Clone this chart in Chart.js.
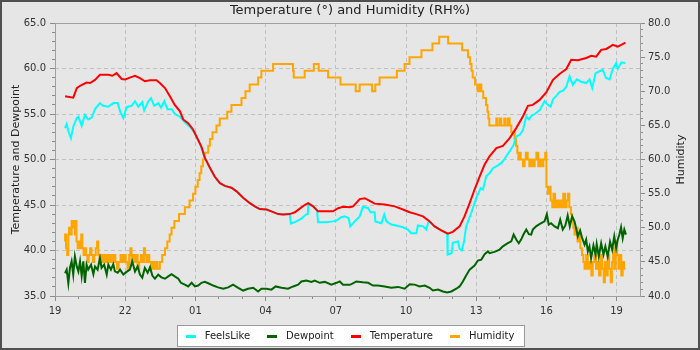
<!DOCTYPE html>
<html>
<head>
<meta charset="utf-8">
<script src="https://cdn.jsdelivr.net/npm/chart.js@4/dist/chart.umd.min.js"></script>
<style>
  html, body { margin: 0; padding: 0; background: #e6e6e6; }
  #frame { width: 700px; height: 350px; box-sizing: border-box; border: 2px solid #505050; background: #e6e6e6; }
  canvas { display: block; }
</style>
</head>
<body>
<div id="frame"><canvas id="chart" width="696" height="346"></canvas></div>
<script>
// Hours since 19:00 on the first day; tick labels every three hours.
const hourLabels = ['19', '22', '01', '04', '07', '10', '13', '16', '19'];

const tempHours = [0.43,0.78,0.93,1.07,1.35,1.5,1.71,1.92,2.28,2.45,2.63,2.85,3.0,3.2,3.42,3.63,3.84,4.06,4.34,4.48,4.7,4.91,5.12,5.34,5.48,5.69,5.9,6.05,6.26,6.4,6.62,6.83,7.05,7.26,7.54,7.76,8.04,8.33,8.54,8.75,9.04,9.25,9.54,9.75,10.03,10.25,10.46,10.67,10.82,11.03,11.24,11.6,11.88,12.1,12.31,12.6,12.74,13.02,13.24,13.45,13.66,14.09,14.52,14.87,15.16,15.44,15.73,16.01,16.22,16.51,16.79,17.0,17.29,17.5,17.72,17.93,18.15,18.36,18.57,18.86,19.14,19.43,19.71,20.0,20.21,20.42,20.71,21.0,21.28,21.56,21.85,22.06,22.35,22.7,22.92,23.13,23.34,23.56,23.84,24.05,24.2,24.38];
const temperature = [56.95,56.8,57.85,58.1,58.45,58.4,58.75,59.3,59.3,59.2,59.5,58.85,58.8,59.0,59.2,58.95,58.6,58.7,58.7,58.4,57.85,56.95,56.0,55.3,54.4,54.0,53.3,52.5,51.4,50.2,49.1,48.1,47.4,47.1,46.9,46.5,45.8,45.2,44.85,44.55,44.5,44.3,44.0,43.95,44.0,44.2,44.6,45.0,45.2,44.85,44.3,44.3,44.3,44.65,44.8,44.75,44.85,45.65,45.75,45.45,45.15,45.05,44.85,44.5,44.2,44.0,43.75,43.2,42.65,42.2,41.85,42.05,42.65,43.75,45.2,46.7,48.15,49.45,50.35,51.25,51.5,52.35,53.45,54.75,55.9,56.0,56.55,57.4,58.75,59.4,59.95,60.95,60.9,61.15,61.4,61.3,62.05,62.15,62.6,62.4,62.6,62.85];

const feelsHours = [0.43,0.5,0.57,0.68,0.78,0.93,1.0,1.14,1.28,1.42,1.57,1.71,1.92,2.06,2.28,2.49,2.68,2.78,2.92,3.06,3.27,3.42,3.56,3.73,3.81,3.99,4.1,4.24,4.41,4.53,4.67,4.81,4.98,5.12,5.34,5.55,5.76,5.98,6.19,6.4,6.62,6.83,7.05,7.26,7.54,7.76,8.04,8.33,8.54,8.75,9.04,9.25,9.54,9.75,10.03,10.08,10.32,10.53,10.72,10.8,10.83,11.03,11.2,11.24,11.6,11.88,12.03,12.24,12.38,12.55,12.62,12.81,13.02,13.16,13.38,13.49,13.66,13.69,13.95,14.07,14.16,14.37,14.58,14.87,15.08,15.22,15.44,15.51,15.73,15.87,15.94,16.01,16.22,16.51,16.76,16.78,16.95,17.0,17.22,17.29,17.38,17.48,17.57,17.79,18.0,18.19,18.29,18.43,18.57,18.72,18.9,19.07,19.21,19.43,19.6,19.71,19.86,20.0,20.14,20.26,20.35,20.5,20.71,20.92,21.07,21.18,21.28,21.42,21.56,21.73,21.85,21.99,22.13,22.3,22.48,22.7,22.84,22.96,23.1,23.27,23.41,23.55,23.7,23.84,23.98,24.05,24.2,24.38];
const feelsLike = [53.45,53.9,53.1,52.35,53.6,54.55,54.7,53.7,54.9,54.4,54.6,55.55,56.2,55.9,55.8,56.2,56.2,55.3,54.55,55.75,55.9,56.4,55.8,56.3,55.4,56.4,56.75,55.9,56.2,55.7,56.4,55.5,55.55,55.0,54.7,54.1,53.6,52.9,51.8,50.2,49.1,48.1,47.4,47.1,46.9,46.5,45.8,45.2,44.85,44.55,44.5,44.3,44.0,43.95,44.0,42.95,43.2,43.5,43.95,44.0,45.15,44.85,44.4,43.1,43.1,43.2,43.3,43.65,43.75,43.55,42.65,43.2,43.75,44.8,44.65,44.2,44.2,43.2,43.0,43.95,43.2,42.85,42.75,42.55,42.3,41.9,41.9,42.75,42.65,42.3,43.0,43.2,42.65,42.2,41.85,39.55,39.7,40.85,41.0,40.2,40.0,40.95,42.65,44.15,45.75,46.85,46.7,48.15,48.5,49.05,49.3,49.6,50.05,50.9,51.6,52.55,52.7,53.25,54.75,54.4,54.75,55.0,55.4,56.4,56.0,55.8,56.6,57.0,57.4,57.6,58.0,59.15,58.2,58.8,58.55,58.4,58.8,57.85,59.45,59.7,59.85,58.95,58.8,59.95,60.6,59.95,60.65,60.6];

const dewHours = [0.43,0.5,0.57,0.64,0.71,0.78,0.85,0.93,1.0,1.07,1.14,1.21,1.28,1.35,1.42,1.54,1.64,1.71,1.82,1.92,1.99,2.1,2.21,2.28,2.39,2.49,2.56,2.68,2.78,2.92,3.06,3.2,3.3,3.42,3.53,3.63,3.73,3.84,3.96,4.06,4.16,4.27,4.41,4.55,4.7,4.84,4.98,5.12,5.27,5.38,5.55,5.69,5.84,5.98,6.12,6.26,6.4,6.55,6.76,6.97,7.19,7.4,7.61,7.83,8.04,8.25,8.47,8.68,8.82,9.04,9.25,9.43,9.68,9.96,10.18,10.39,10.53,10.74,10.96,11.1,11.31,11.53,11.81,12.03,12.17,12.31,12.6,12.67,12.88,13.16,13.38,13.59,13.8,14.09,14.37,14.66,14.94,15.16,15.37,15.58,15.8,16.01,16.15,16.37,16.58,16.76,16.94,17.15,17.29,17.43,17.57,17.72,17.93,18.07,18.22,18.36,18.5,18.57,18.78,19.0,19.14,19.35,19.5,19.6,19.71,19.82,19.92,20.02,20.14,20.25,20.35,20.42,20.56,20.67,20.78,20.92,21.02,21.1,21.2,21.35,21.49,21.59,21.7,21.81,21.91,22.0,22.1,22.2,22.27,22.34,22.44,22.53,22.63,22.7,22.77,22.84,22.91,23.01,23.1,23.15,23.24,23.34,23.44,23.52,23.62,23.72,23.81,23.9,23.98,24.05,24.12,24.19,24.26,24.33,24.4];
const dewpoint = [37.5,37.9,36.4,38.1,38.8,37.35,39.35,38.25,37.7,38.8,37.2,38.8,36.45,38.45,37.9,38.45,37.4,38.25,37.9,39.15,38.1,38.45,37.35,38.45,37.9,38.5,37.7,37.55,37.9,37.35,37.65,37.9,38.8,37.7,38.25,37.35,37.0,38.1,37.55,38.15,37.25,36.9,37.35,37.05,36.9,37.15,37.4,37.15,36.9,36.45,36.25,36.05,36.45,36.05,36.15,36.45,36.55,36.4,36.15,35.95,35.8,35.95,36.25,35.9,35.6,35.8,35.9,35.5,35.8,35.8,35.7,36.05,35.9,35.8,36.05,36.25,36.6,36.7,36.55,36.7,36.45,36.55,36.25,36.45,36.6,36.25,36.25,36.3,36.6,36.5,36.45,36.15,36.15,36.05,35.9,36.0,35.8,36.3,36.25,36.05,36.15,35.9,35.6,35.7,35.5,35.4,35.5,35.8,36.05,36.6,37.25,37.9,38.35,38.9,39.0,39.6,39.9,39.7,39.85,40.1,40.45,40.8,41.0,41.75,41.2,40.8,41.2,41.75,42.3,41.8,41.75,42.3,42.65,42.85,43.0,43.2,44.0,42.85,43.0,42.65,42.45,43.4,42.3,42.75,43.85,42.65,43.75,43.2,42.45,41.55,42.2,41.35,40.65,41.2,39.9,40.45,39.15,40.55,39.55,40.7,39.35,40.8,39.55,40.45,39.35,40.95,40.1,41.55,40.25,41.2,41.75,42.55,41.35,42.3,41.75];

// Relative humidity is logged in whole percent; each value holds until the next reading.
const humHours = [0.43,0.47,0.52,0.57,0.6,0.66,0.71,0.76,0.8,0.85,0.88,0.92,0.97,1.02,1.07,1.12,1.17,1.22,1.28,1.33,1.38,1.44,1.5,1.56,1.62,1.68,1.74,1.8,1.85,1.9,1.95,2.0,2.07,2.13,2.2,2.28,2.35,2.42,2.5,2.58,2.65,2.72,2.8,2.88,2.95,3.02,3.1,3.17,3.22,3.27,3.32,3.4,3.47,3.53,3.6,3.67,3.73,3.8,3.85,3.9,3.96,4.03,4.1,4.17,4.24,4.3,4.38,4.48,4.58,4.7,4.8,4.9,4.98,5.1,5.3,5.55,5.75,5.9,6.0,6.1,6.18,6.25,6.32,6.4,6.55,6.62,6.73,6.9,7.04,7.36,7.54,7.97,8.14,8.32,8.68,8.82,9.32,10.17,10.2,10.67,11.06,11.27,11.67,12.2,12.85,13.02,13.55,13.69,13.87,14.61,14.94,15.15,15.66,16.13,16.42,16.8,17.4,17.65,17.74,17.8,17.85,17.95,18.06,18.14,18.22,18.3,18.42,18.48,18.52,18.56,18.86,18.9,19.0,19.07,19.2,19.25,19.35,19.43,19.5,19.64,19.7,19.76,19.8,19.85,19.9,19.95,20.0,20.07,20.12,20.2,20.27,20.35,20.42,20.5,20.57,20.65,20.72,20.8,20.87,20.95,21.0,21.06,21.12,21.18,21.25,21.3,21.37,21.43,21.5,21.58,21.65,21.72,21.8,21.86,21.92,21.98,22.05,22.1,22.15,22.2,22.27,22.33,22.4,22.45,22.52,22.58,22.63,22.7,22.77,22.85,22.92,22.98,23.05,23.12,23.18,23.25,23.32,23.38,23.45,23.5,23.56,23.62,23.68,23.75,23.8,23.85,23.9,23.96,24.02,24.08,24.14,24.2,24.26,24.32,24.38];
const humidity = [48,49,47,46,49,50,49,51,50,51,49,51,48,47,48,47,49,47,46,47,46,45,46,47,46,45,46,47,48,46,45,46,45,46,45,46,45,46,45,46,45,44,45,46,45,46,45,44,46,47,45,46,45,46,44,45,46,45,47,46,45,46,45,44,45,44,45,44,45,46,47,48,49,50,51,52,53,54,55,56,57,58,59,60,61,62,63,64,65,66,67,68,69,70,71,72,73,74,73,72,73,74,73,72,71,70,71,70,71,72,73,74,75,76,77,78,77,76,75,74,73,72,71,70,71,70,69,68,67,66,65,66,65,66,65,66,65,66,65,64,63,62,61,60,61,60,60,59,60,61,60,59,60,59,60,61,59,60,59,60,61,56,55,56,54,53,55,53,54,53,54,53,55,53,54,55,53,52,51,50,49,50,48,49,47,46,45,44,46,44,45,43,45,46,44,45,43,46,44,42,45,43,46,44,42,45,47,44,48,46,44,46,43,45,44];

const toPoints = (hours, values) => hours.map((h, i) => ({ x: h, y: values[i] }));

// Legend swatch: a short bar with a little transparent room to its right.
function swatch(color) {
  const c = document.createElement('canvas');
  c.width = 14; c.height = 4;
  const g = c.getContext('2d');
  g.fillStyle = color;
  g.fillRect(0, 1, 10, 3);
  return c;
}

const FONT = "'DejaVu Sans', 'Liberation Sans', sans-serif";
Chart.defaults.font.family = FONT;

const AXIS_GREY = '#8a8a8a';
const GRID_GREY = '#c0c0c0';

const chartDecor = {
  id: 'chartDecor',
  beforeDraw(chart) {
    const ctx = chart.ctx;
    ctx.imageSmoothingEnabled = false;
    const hb = chart.legend && chart.legend.legendHitBoxes;
    if (hb && hb.length) {
      const first = hb[0], last = hb[hb.length - 1];
      const left = Math.round(first.left - 9);
      const right = Math.round(last.left + last.width + 11);
      const cy = first.top + first.height / 2;
      const top = Math.round(cy - 11), bottom = Math.round(cy + 11);
      ctx.save();
      ctx.fillStyle = '#ffffff';
      ctx.fillRect(left, top, right - left, bottom - top);
      ctx.strokeStyle = '#999999';
      ctx.lineWidth = 1;
      ctx.strokeRect(left + 0.5, top + 0.5, right - left - 1, bottom - top - 1);
      ctx.restore();
    }
  },
  beforeDatasetsDraw(chart) {
    const { ctx, chartArea: a, scales: { x, y, y1 } } = chart;
    ctx.save();
    ctx.strokeStyle = AXIS_GREY;
    ctx.lineWidth = 1;
    ctx.beginPath();
    // minor ticks: every hour, every unit on both value axes
    for (let h = x.min + 1; h < x.max; h++) {
      if (h % 3 === 0) continue;
      const px = Math.floor(x.getPixelForValue(h)) + 0.5;
      ctx.moveTo(px, a.bottom); ctx.lineTo(px, a.bottom + 3);
    }
    for (let v = y.min + 1; v < y.max; v++) {
      if (v % 5 === 0) continue;
      const py = Math.floor(y.getPixelForValue(v)) + 0.5;
      ctx.moveTo(a.left - 3, py); ctx.lineTo(a.left, py);
    }
    for (let v = y1.min + 1; v < y1.max; v++) {
      if (v % 5 === 0) continue;
      const py = Math.floor(y1.getPixelForValue(v)) + 0.5;
      ctx.moveTo(a.right, py); ctx.lineTo(a.right + 3, py);
    }
    ctx.stroke();
    // plot outline
    ctx.strokeStyle = '#a0a0a0';
    ctx.strokeRect(a.left + 0.5, a.top + 0.5, a.right - a.left, a.bottom - a.top);
    ctx.restore();
  },
  afterDraw(chart) {
    const { ctx, chartArea: a } = chart;
    ctx.save();
    ctx.translate(a.right + 41, (a.top + a.bottom) / 2);
    ctx.rotate(-Math.PI / 2);
    ctx.font = '11px ' + FONT;
    ctx.fillStyle = '#222';
    ctx.textAlign = 'center';
    ctx.textBaseline = 'middle';
    ctx.fillText('Humidity', 0, 0);
    ctx.restore();
  }
};

const lineStyle = { borderWidth: 2, pointRadius: 0, pointHoverRadius: 0, tension: 0, fill: false };

new Chart(document.getElementById('chart'), {
  type: 'line',
  data: {
    datasets: [
      { label: 'FeelsLike', data: toPoints(feelsHours, feelsLike), borderColor: '#00ffff', pointStyle: swatch('#00ffff'), yAxisID: 'y', order: 2, ...lineStyle },
      { label: 'Dewpoint', data: toPoints(dewHours, dewpoint), borderColor: '#006400', pointStyle: swatch('#006400'), yAxisID: 'y', order: 1, ...lineStyle },
      { label: 'Temperature', data: toPoints(tempHours, temperature), borderColor: '#ff0000', pointStyle: swatch('#ff0000'), yAxisID: 'y', order: 0, ...lineStyle },
      { label: 'Humidity', data: toPoints(humHours, humidity), borderColor: '#ffa500', pointStyle: swatch('#ffa500'), yAxisID: 'y1', order: 3, stepped: 'after', ...lineStyle }
    ]
  },
  options: {
    responsive: false,
    devicePixelRatio: 1,
    animation: false,
    events: [],
    layout: { padding: { top: 0, left: 0, right: 0, bottom: -3 } },
    scales: {
      x: {
        type: 'linear', min: 0, max: 25,
        ticks: {
          stepSize: 3, includeBounds: false, autoSkip: false, maxRotation: 0, padding: 4,
          color: '#333', font: { size: 10 },
          callback: (v) => hourLabels[v / 3]
        },
        grid: { color: GRID_GREY, lineWidth: 1, tickColor: AXIS_GREY, tickLength: 5, tickBorderDash: [] },
        border: { display: false, dash: [4, 3] },
        afterFit(s) { s.height = 18; }
      },
      y: {
        position: 'left', min: 35, max: 65,
        ticks: { stepSize: 5, padding: 4, color: '#333', font: { size: 10 }, callback: (v) => v.toFixed(1) },
        grid: { color: GRID_GREY, lineWidth: 1, tickColor: AXIS_GREY, tickLength: 5, tickBorderDash: [] },
        border: { display: false, dash: [4, 3] },
        title: { display: true, text: 'Temperature and Dewpoint', color: '#222', font: { size: 11 }, padding: { top: 8, bottom: 0 } },
        afterFit(s) { s.width = 53; }
      },
      y1: {
        position: 'right', min: 40, max: 80,
        ticks: { stepSize: 5, padding: 3, color: '#333', font: { size: 10 }, callback: (v) => v.toFixed(1) },
        grid: { drawOnChartArea: false, tickColor: AXIS_GREY, tickLength: 5 },
        border: { display: false },
        afterFit(s) { s.width = 58; }
      }
    },
    plugins: {
      title: {
        display: true,
        text: 'Temperature (°) and Humidity (RH%)',
        color: '#222',
        font: { size: 13, weight: 'normal' },
        padding: { top: 1, bottom: 4.4 }
      },
      legend: {
        position: 'bottom',
        labels: {
          usePointStyle: true, pointStyleWidth: 14, padding: 17,
          color: '#222', font: { size: 10 },
          sort: (a, b) => a.datasetIndex - b.datasetIndex
        }
      },
      tooltip: { enabled: false }
    }
  },
  plugins: [chartDecor]
});
</script>
</body>
</html>
